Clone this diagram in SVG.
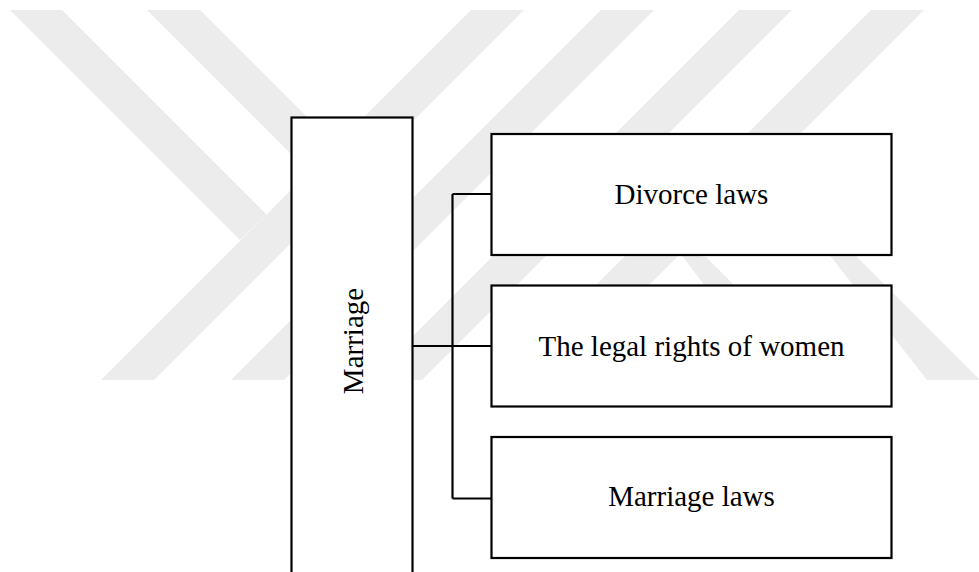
<svg xmlns="http://www.w3.org/2000/svg" width="979" height="572" viewBox="0 0 979 572">
<style>
.wm{fill:#ececec;stroke:none}
.box{fill:#ffffff;stroke:#000000;stroke-width:2.2}
.con{fill:none;stroke:#000000;stroke-width:2.2}
.lbl{font-family:"Liberation Serif","Times New Roman",serif;font-size:29px;fill:#000000;text-anchor:middle}
</style>
<rect x="0" y="0" width="979" height="572" fill="#ffffff"/>
<g id="watermark">
<polygon class="wm" points="10,10 62,10 266.5,214.5 240,240"/>
<polygon class="wm" points="147,10 200,10 335.5,145.5 309,172"/>
<polygon class="wm" points="471,10 524,10 154,380 101,380"/>
<polygon class="wm" points="601,10 654,10 284,380 231,380"/>
<polygon class="wm" points="739,10 792,10 422,380 369,380"/>
<polygon class="wm" points="871,10 924,10 554,380 501,380"/>
<polygon class="wm" points="740.5,140.5 767,167 980,380 927,380"/>
<polygon class="wm" points="680,253 706,257 829,380 776,380"/>
</g>
<g id="connectors">
<path class="con" d="M452.5,194 V498.5"/>
<path class="con" d="M452.5,194 H491.5"/>
<path class="con" d="M413,346 H491.5"/>
<path class="con" d="M452.5,498.5 H491.5"/>
</g>
<g id="marriage">
<rect class="box" x="291.5" y="117.5" width="121" height="480"/>
<text class="lbl" transform="translate(362.5,341) rotate(-90)">Marriage</text>
</g>
<g id="divorce-laws">
<rect class="box" x="491.5" y="134" width="400" height="121"/>
<text class="lbl" x="691.5" y="203.5">Divorce laws</text>
</g>
<g id="legal-rights">
<rect class="box" x="491.5" y="285.5" width="400" height="121"/>
<text class="lbl" x="691.5" y="355.5">The legal rights of women</text>
</g>
<g id="marriage-laws">
<rect class="box" x="491.5" y="437" width="400" height="121"/>
<text class="lbl" x="691.5" y="506">Marriage laws</text>
</g>
</svg>
